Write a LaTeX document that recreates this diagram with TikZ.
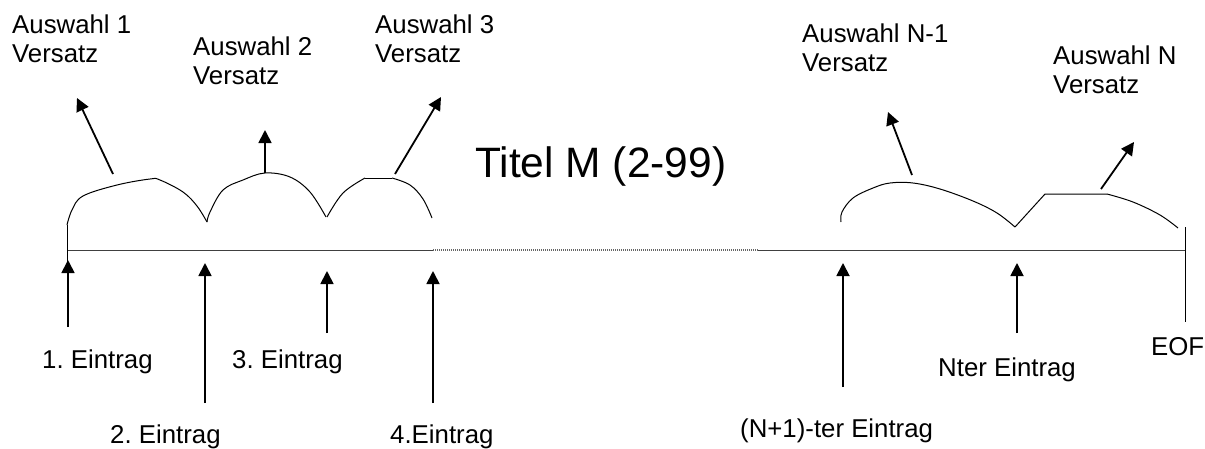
\documentclass[tikz,border=0pt]{standalone}
\usepackage{fontspec}
\setmainfont{Liberation Sans}
\usetikzlibrary{arrows.meta}
\frenchspacing
\begin{document}
\begin{tikzpicture}[x=1pt,y=-1pt,
  lbl/.style={anchor=base west,inner sep=0pt,font=\fontsize{25.8}{30}\selectfont},
  ptr/.style={line width=1.8pt,-{Triangle[length=13pt,width=13pt]}},
  curve/.style={line width=1pt},
  axis/.style={line width=1pt,draw=black!75},
  dots/.style={line width=1.2pt,draw=black!60,dash pattern=on 1pt off 1pt}]
\useasboundingbox (0,0) rectangle (1205,448);

% baseline
\coordinate (b0) at (67,250);
\coordinate (b1) at (433,250);
\coordinate (b2) at (758,250);
\coordinate (b3) at (1185,250);
\draw[axis] (b0) -- (b1);
\draw[dots] (b1) -- (b2);
\draw[axis] (b2) -- (b3);

% left start tick
\coordinate (s0) at (67,225);
\coordinate (s1) at (67,272);
\draw[curve] (s0) -- (s1);

% arcs
\draw[curve] plot[smooth,tension=0.6] coordinates {(67,225) (72,210) (83,196) (117,185) (150,179) (160,180) (183,192) (197,206) (207,222)};
\draw[curve] plot[smooth,tension=0.6] coordinates {(207,222) (210,212) (223,190) (243,180) (265,173) (290,177) (310,192) (326,217)};
\draw[curve] plot[smooth,tension=0.6] coordinates {(327,217) (343,193) (365,178)};
\draw[curve] (365,178) -- (392,178);
\draw[curve] plot[smooth,tension=0.6] coordinates {(392,178) (410,185) (423,199) (432,218)};

\draw[curve] plot[smooth,tension=0.6] coordinates {(841,222) (842,212) (853,198) (873,188) (890,183) (913,183) (940,189) (973,201) (997,213) (1015,227)};
\draw[curve] (1015,227) -- (1045,194) -- (1107,194);
\draw[curve] plot[smooth,tension=0.6] coordinates {(1107,194) (1133,202) (1160,215) (1178,228)};

% EOF line
\coordinate (e0) at (1185,227);
\coordinate (e1) at (1185,322);
\draw[curve] (e0) -- (e1);

% upward arrows (Versatz)
\coordinate (u1a) at (113,174); \coordinate (u1b) at (77,98);
\coordinate (u2a) at (265,173); \coordinate (u2b) at (265,130);
\coordinate (u3a) at (395,174); \coordinate (u3b) at (441,97);
\coordinate (u4a) at (912,175); \coordinate (u4b) at (888,112);
\coordinate (u5a) at (1101,189); \coordinate (u5b) at (1134,142);
\draw[ptr] (u1a) -- (u1b);
\draw[ptr] (u2a) -- (u2b);
\draw[ptr] (u3a) -- (u3b);
\draw[ptr] (u4a) -- (u4b);
\draw[ptr] (u5a) -- (u5b);

% entry arrows
\coordinate (d1a) at (68,327); \coordinate (d1b) at (68,260);
\coordinate (d2a) at (205,403); \coordinate (d2b) at (205,263);
\coordinate (d3a) at (327,333); \coordinate (d3b) at (327,271);
\coordinate (d4a) at (433,403); \coordinate (d4b) at (433,271);
\coordinate (d5a) at (843,387); \coordinate (d5b) at (843,263);
\coordinate (d6a) at (1017,333); \coordinate (d6b) at (1017,263);
\draw[ptr] (d1a) -- (d1b);
\draw[ptr] (d2a) -- (d2b);
\draw[ptr] (d3a) -- (d3b);
\draw[ptr] (d4a) -- (d4b);
\draw[ptr] (d5a) -- (d5b);
\draw[ptr] (d6a) -- (d6b);

% labels
\node[lbl] (t1) at (12,33) {Auswahl 1};
\node[lbl] (t1v) at (12,62) {Versatz};
\node[lbl] (t2) at (193,55) {Auswahl 2};
\node[lbl] (t2v) at (193,84) {Versatz};
\node[lbl] (t3) at (375,33) {Auswahl 3};
\node[lbl] (t3v) at (375,62) {Versatz};
\node[lbl] (t4) at (802,42) {Auswahl N-1};
\node[lbl] (t4v) at (802,71) {Versatz};
\node[lbl] (t5) at (1053,64) {Auswahl N};
\node[lbl] (t5v) at (1053,93) {Versatz};

\node[anchor=base west,inner sep=0pt,font=\fontsize{42.5}{48}\selectfont] (title) at (475,177) {Titel M (2-99)};

\node[lbl] (l1) at (42,368) {1. Eintrag};
\node[lbl] (l2) at (110,443) {2. Eintrag};
\node[lbl] (l3) at (232,368) {3. Eintrag};
\node[lbl] (l4) at (390,443) {4.Eintrag};
\node[lbl] (l5) at (740,437) {(N+1)-ter Eintrag};
\node[lbl] (l6) at (938,376) {Nter Eintrag};
\node[lbl] (l7) at (1151,355) {EOF};
\end{tikzpicture}
\end{document}
